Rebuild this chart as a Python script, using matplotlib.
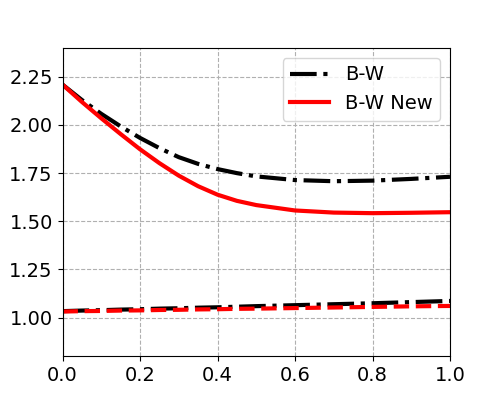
import matplotlib
matplotlib.use('Agg')
import matplotlib.pyplot as plt
import numpy as np

x = [0.0, 0.05, 0.1, 0.15, 0.2, 0.25, 0.3, 0.35, 0.4, 0.45, 0.5, 0.6, 0.7, 0.8, 0.9, 1.0]
bw_upper = [2.21, 2.13, 2.058, 1.993, 1.933, 1.88, 1.833, 1.798, 1.771, 1.75, 1.733,
            1.714, 1.708, 1.711, 1.72, 1.731]
bw_new_upper = [2.21, 2.12, 2.035, 1.953, 1.874, 1.802, 1.737, 1.682, 1.638, 1.606, 1.584,
                1.556, 1.545, 1.542, 1.544, 1.547]
bw_lower = [1.033, 1.036, 1.038, 1.041, 1.043, 1.046, 1.048, 1.051, 1.053, 1.056, 1.059,
            1.064, 1.069, 1.074, 1.080, 1.086]
bw_new_lower = [1.031, 1.033, 1.034, 1.036, 1.037, 1.039, 1.040, 1.042, 1.043, 1.045, 1.046,
                1.049, 1.052, 1.055, 1.058, 1.060]

plt.rcParams['font.size'] = 14
fig = plt.figure(figsize=(5, 4), dpi=100)
ax = fig.add_subplot(111)
ax.plot(x, bw_upper, color='black', linestyle='-.', linewidth=3, label='B-W')
ax.plot(x, bw_new_upper, color='red', linestyle='-', linewidth=3, label='B-W New')
ax.plot(x, bw_lower, color='black', linestyle='-.', linewidth=3)
ax.plot(x, bw_new_lower, color='red', linestyle='--', linewidth=3)
ax.set_xlim(0, 1)
ax.set_ylim(0.8, 2.4)
ax.set_yticks([1.0, 1.25, 1.5, 1.75, 2.0, 2.25])
ax.grid(True, linestyle='--')
ax.legend(loc='upper right')
fig.savefig('out.png')
